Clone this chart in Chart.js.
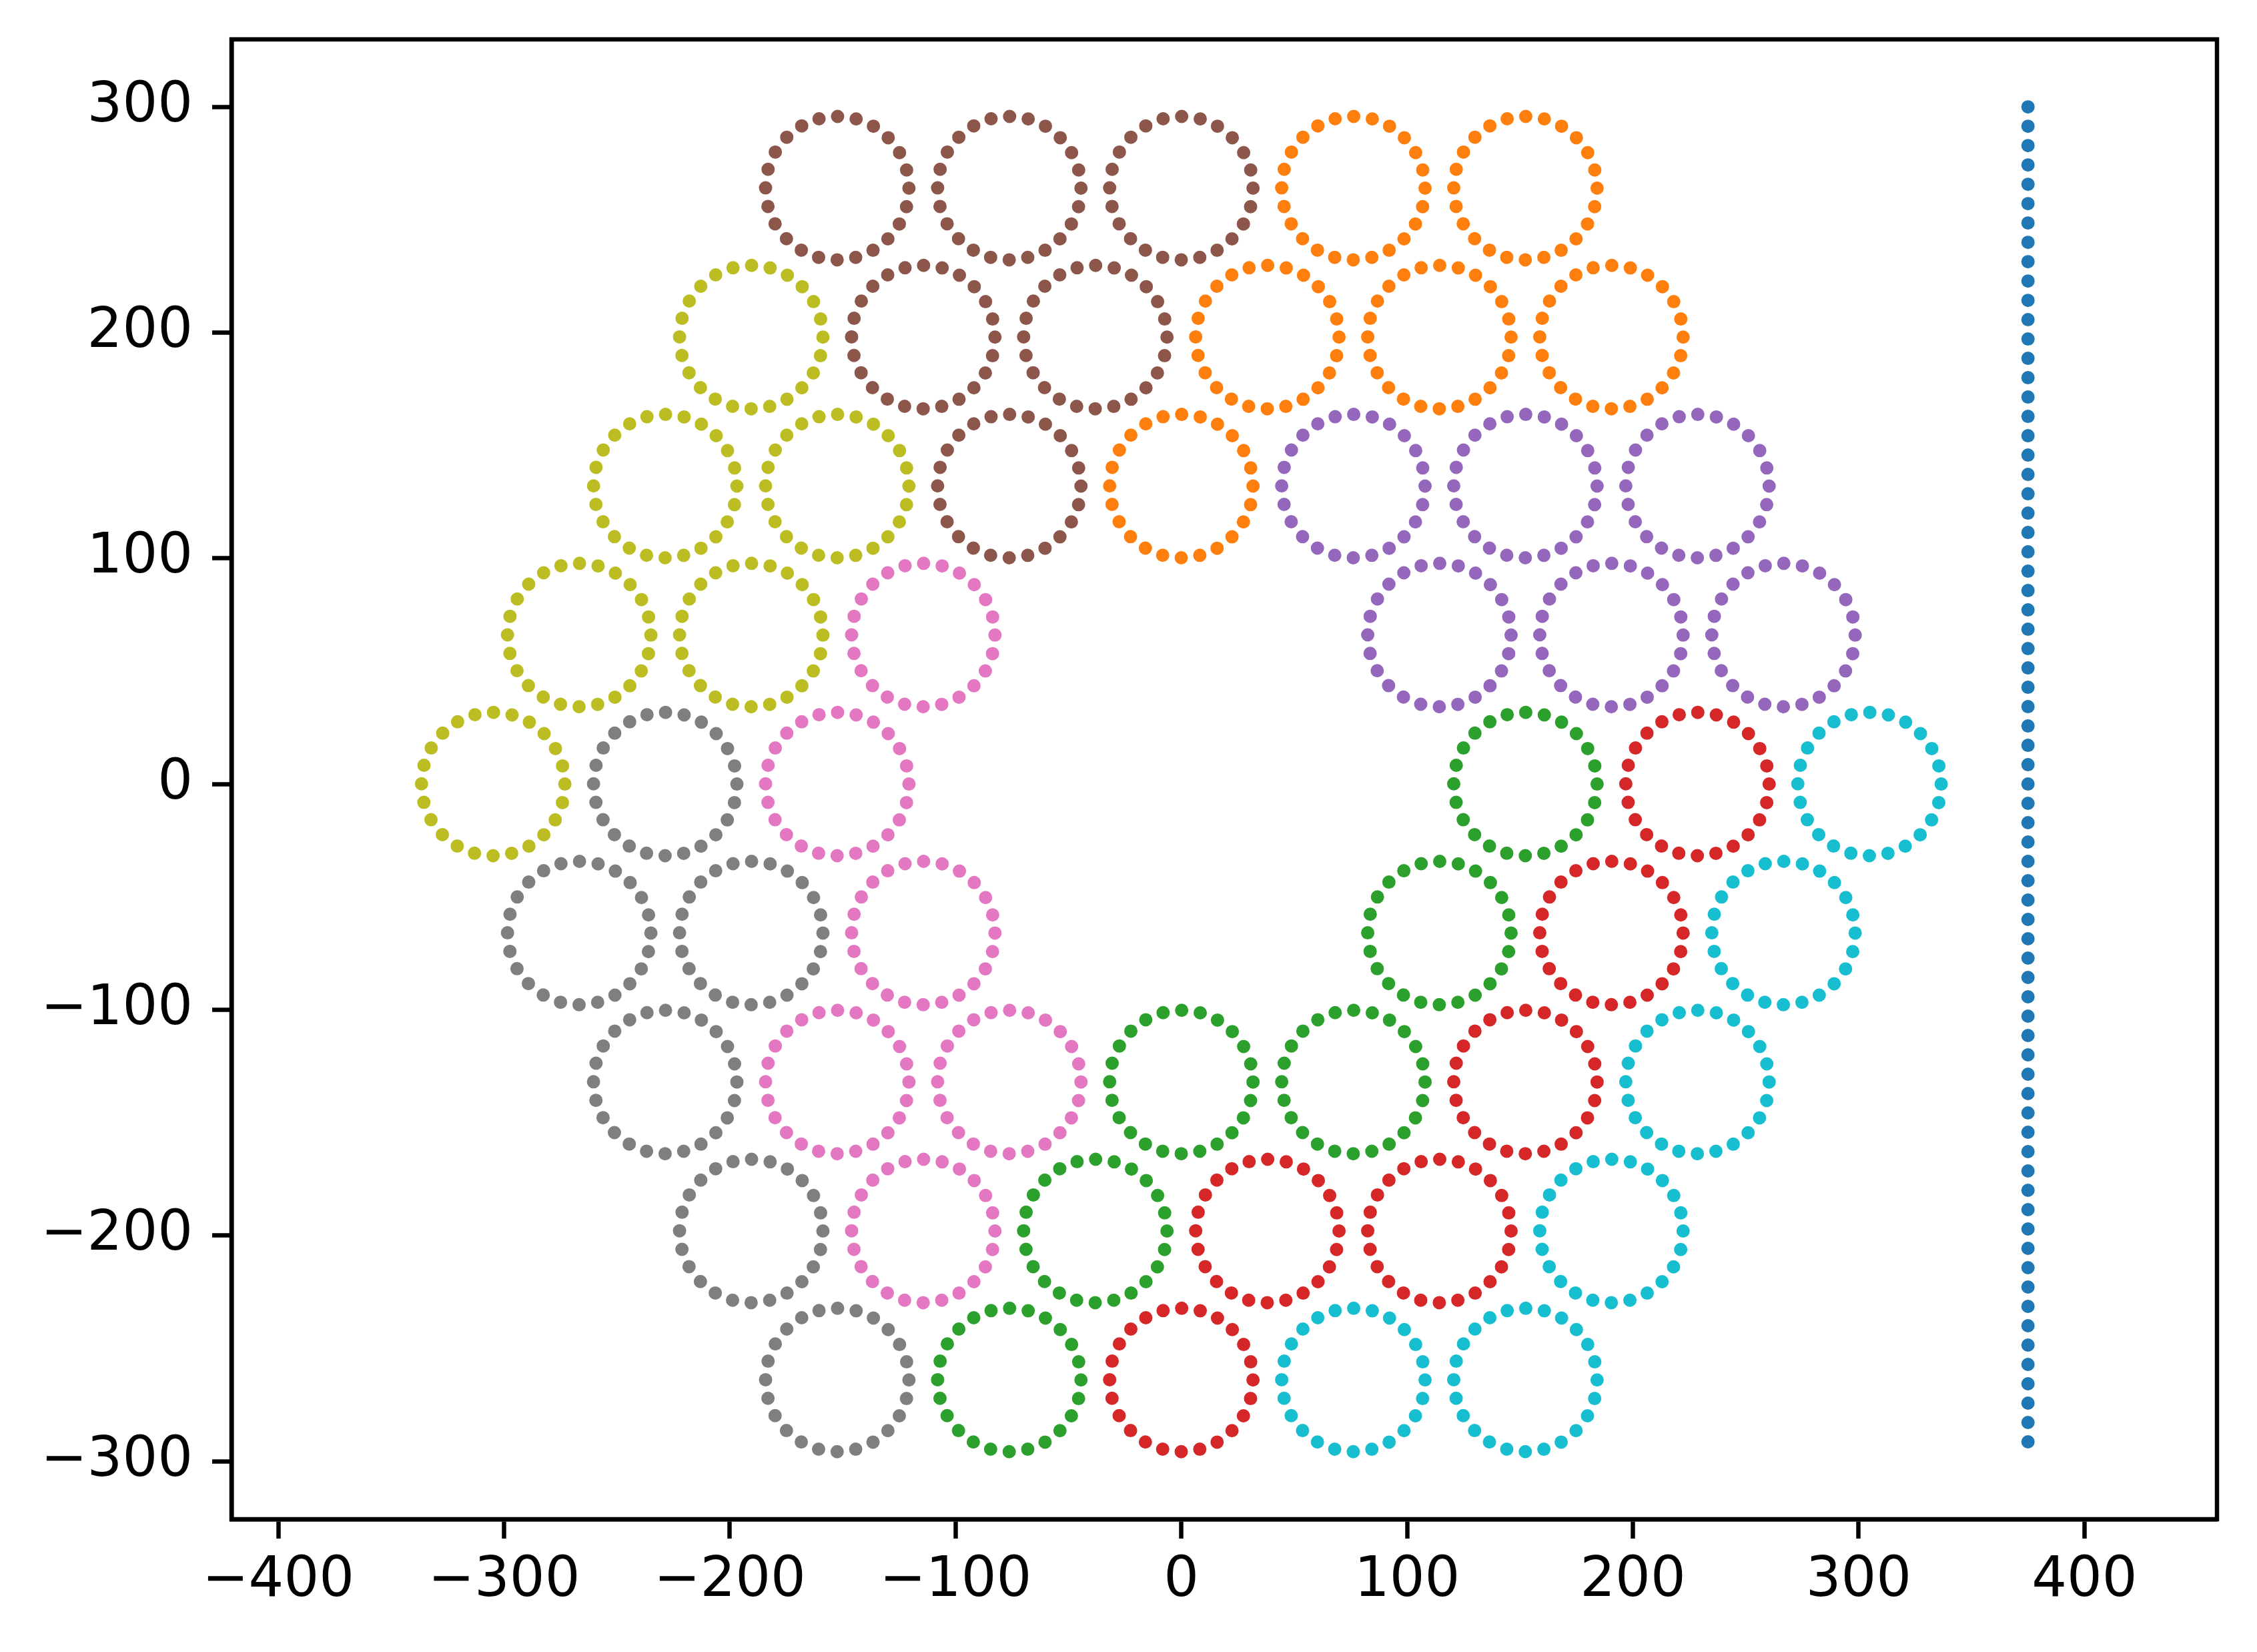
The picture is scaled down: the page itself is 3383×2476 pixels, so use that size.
<!DOCTYPE html>
<html>
<head>
<meta charset="utf-8">
<script src="https://cdn.jsdelivr.net/npm/chart.js@4"></script>
<style>
html, body { margin: 0; padding: 0; background: #ffffff; }
#wrap { width: 3383px; height: 2476px; position: relative; }
</style>
</head>
<body>
<div id="wrap"><canvas id="c"></canvas></div>
<script>
// ---- tick labels ----
const xTicks = [-400, -300, -200, -100, 0, 100, 200, 300, 400];
const yTicks = [-300, -200, -100, 0, 100, 200, 300];

// ---- vertical dotted series (C0) ----
const lineX = [375, 375];
const lineY = [300, -291.4];
const lineDotCount = 70;

// ---- circle centres per series (each circle drawn as a ring of dots) ----
const circleRadius = 31.75;
const dotsPerCircle = 24;

const orangeX = [76.2, 152.4, 38.1, 114.3, 190.5, 0];
const orangeY = [264, 264, 198, 198, 198, 132];
const greenX  = [152.4, 114.3, 0, 76.2, -38.1, -76.2];
const greenY  = [0, -66, -132, -132, -198, -264];
const redX    = [228.6, 190.5, 152.4, 38.1, 114.3, 0];
const redY    = [0, -66, -132, -198, -198, -264];
const purpleX = [76.2, 152.4, 228.6, 114.3, 190.5, 266.7];
const purpleY = [132, 132, 132, 66, 66, 66];
const brownX  = [-152.4, -76.2, 0, -114.3, -38.1, -76.2];
const brownY  = [264, 264, 264, 198, 198, 132];
const pinkX   = [-114.3, -152.4, -114.3, -152.4, -76.2, -114.3];
const pinkY   = [66, 0, -66, -132, -132, -198];
const grayX   = [-228.6, -266.7, -190.5, -228.6, -190.5, -152.4];
const grayY   = [0, -66, -66, -132, -198, -264];
const oliveX  = [-190.5, -228.6, -152.4, -266.7, -190.5, -304.8];
const oliveY  = [198, 132, 132, 66, 66, 0];
const cyanX   = [304.8, 266.7, 228.6, 190.5, 76.2, 152.4];
const cyanY   = [0, -66, -132, -198, -264, -264];

// ---- styling ----
const colors = ['#1f77b4', '#ff7f0e', '#2ca02c', '#d62728', '#9467bd',
                '#8c564b', '#e377c2', '#7f7f7f', '#bcbd22', '#17becf'];
const DOT = 20;
const FONT = 83;
const SPINE = 6.5;

function pts(xs, ys) { return xs.map((x, i) => ({ x: x, y: ys[i] })); }

function radiusPx(chart) {
  const s = chart.scales.x;
  return Math.abs(s.getPixelForValue(circleRadius) - s.getPixelForValue(0));
}

const circleSeries = [
  ['orange', orangeX, orangeY, colors[1]],
  ['green', greenX, greenY, colors[2]],
  ['red', redX, redY, colors[3]],
  ['purple', purpleX, purpleY, colors[4]],
  ['brown', brownX, brownY, colors[5]],
  ['pink', pinkX, pinkY, colors[6]],
  ['gray', grayX, grayY, colors[7]],
  ['olive', oliveX, oliveY, colors[8]],
  ['cyan', cyanX, cyanY, colors[9]]
];

const datasets = [{
  label: 'line',
  data: pts(lineX, lineY),
  showLine: true,
  borderColor: colors[0],
  backgroundColor: colors[0],
  borderWidth: DOT,
  borderCapStyle: 'round',
  tension: 0,
  pointRadius: 0,
  pointHoverRadius: 0,
  borderDash: (c) => {
    const y = c.chart.scales.y;
    const L = Math.abs(y.getPixelForValue(lineY[0]) - y.getPixelForValue(lineY[1]));
    return [0, (L / (lineDotCount - 1)) * (1 - 1e-7)];
  },
  order: 10
}].concat(circleSeries.map((s, i) => ({
  label: s[0],
  data: pts(s[1], s[2]),
  isCircle: true,
  showLine: false,
  borderColor: s[3],
  backgroundColor: 'rgba(0,0,0,0)',
  borderWidth: DOT,
  pointStyle: 'circle',
  pointRadius: (c) => radiusPx(c.chart),
  pointHoverRadius: (c) => radiusPx(c.chart),
  pointHoverBorderWidth: DOT,
  order: 9 - i
})));

const dottedRings = {
  id: 'dottedRings',
  beforeDatasetDraw(chart, args) {
    const ds = chart.data.datasets[args.index];
    if (!ds.isCircle) return;
    const r = radiusPx(chart);
    const ctx = chart.ctx;
    ctx.save();
    ctx.setLineDash([0, (2 * Math.PI * r / dotsPerCircle) * (1 - 1e-7)]);
    ctx.lineCap = 'round';
  },
  afterDatasetDraw(chart, args) {
    const ds = chart.data.datasets[args.index];
    if (!ds.isCircle) return;
    chart.ctx.restore();
  },
  afterDraw(chart) {
    const a = chart.chartArea;
    const ctx = chart.ctx;
    ctx.save();
    ctx.setLineDash([]);
    ctx.strokeStyle = '#000';
    ctx.lineWidth = SPINE;
    ctx.lineJoin = 'miter';
    ctx.strokeRect(a.left, a.top, a.right - a.left, a.bottom - a.top);
    ctx.restore();
  }
};

const fmt = (v) => String(v).replace('-', '\u2212');

function axisCommon(ticksArr, fitFn) {
  return {
    type: 'linear',
    grid: { display: true, drawOnChartArea: false, drawTicks: true,
            tickLength: 29, tickWidth: SPINE, tickColor: '#000' },
    border: { display: true, color: '#000', width: SPINE },
    afterBuildTicks: (scale) => { scale.ticks = ticksArr.map(v => ({ value: v })); },
    afterFit: fitFn
  };
}

const xAxis = Object.assign(axisCommon(xTicks, (s) => {
  s.height = 199; s.paddingLeft = 0; s.paddingRight = 0; s.paddingTop = 0; s.paddingBottom = 0;
}), {
  position: 'bottom', min: -420.7, max: 458.7,
  ticks: { color: '#000', font: { family: 'DejaVu Sans', size: FONT }, padding: 15,
           autoSkip: false, maxRotation: 0, minRotation: 0, callback: fmt }
});

const yAxis = Object.assign(axisCommon(yTicks, (s) => {
  s.width = 347; s.paddingLeft = 0; s.paddingRight = 0; s.paddingTop = 0; s.paddingBottom = 0;
}), {
  position: 'left', min: -325.7, max: 329.9,
  ticks: { color: '#000', font: { family: 'DejaVu Sans', size: FONT }, padding: 29,
           autoSkip: false, callback: fmt }
});

new Chart(document.getElementById('c'), {
  type: 'scatter',
  data: { datasets: datasets },
  options: {
    responsive: true,
    maintainAspectRatio: false,
    devicePixelRatio: 1,
    animation: false,
    events: [],
    layout: { padding: { left: 0, top: 59, right: 60, bottom: 0 } },
    plugins: { legend: { display: false }, tooltip: { enabled: false }, title: { display: false } },
    scales: { x: xAxis, y: yAxis }
  },
  plugins: [dottedRings]
});
</script>
</body>
</html>
